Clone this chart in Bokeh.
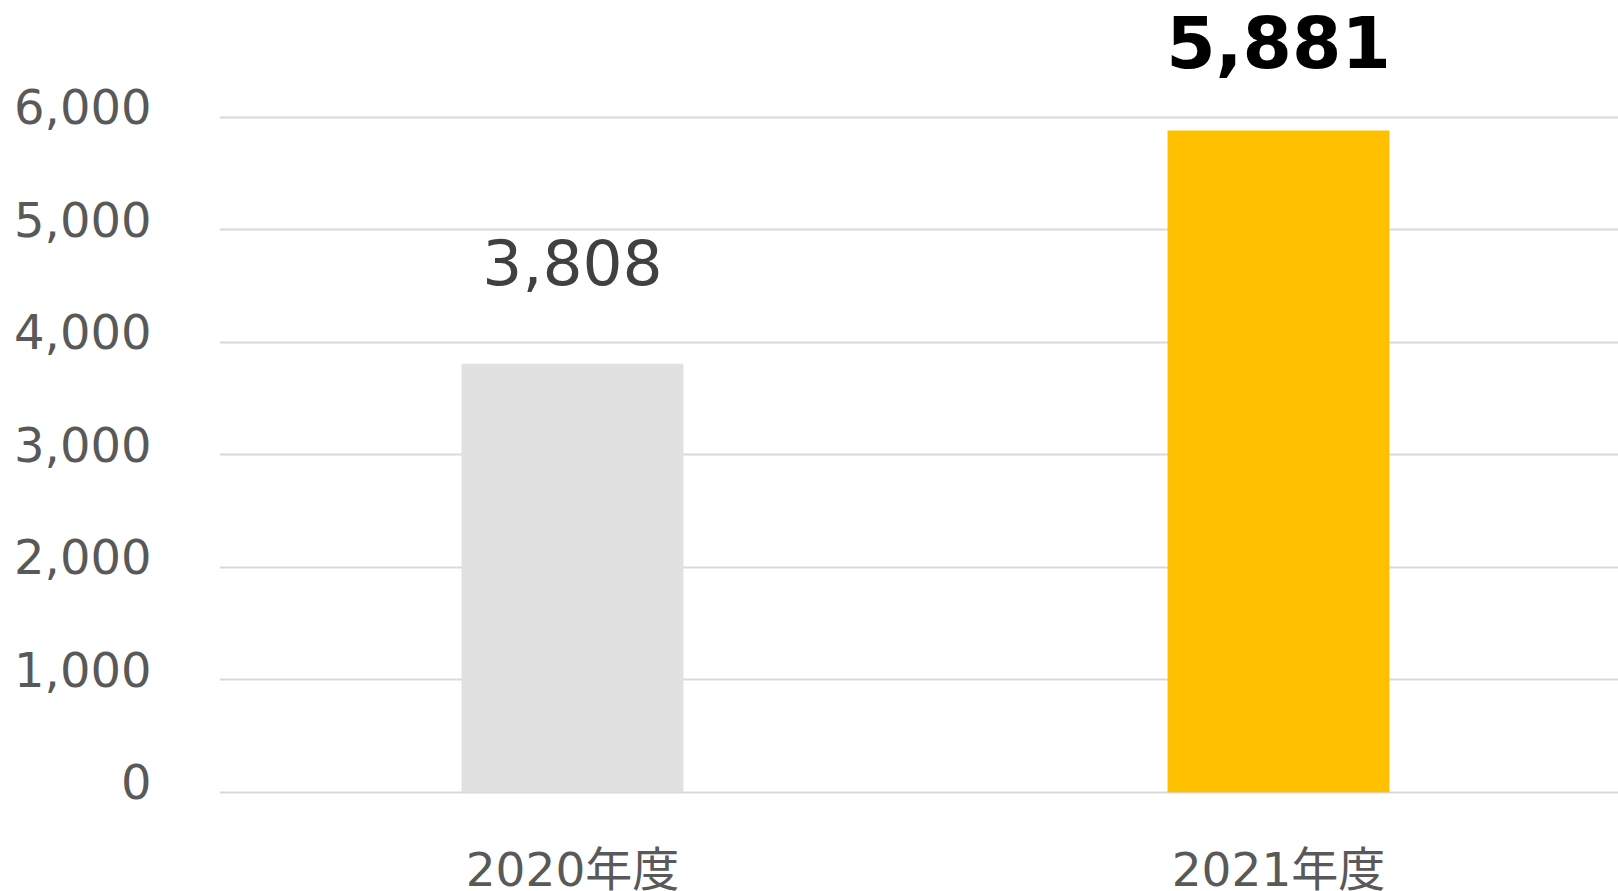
from bokeh.plotting import figure
from bokeh.models import Range1d, FixedTicker, NumeralTickFormatter, ColumnDataSource, LinearAxis
from bokeh.core.properties import value
from bokeh.embed import file_html
from bokeh.resources import INLINE

categories = ["2020年度", "2021年度"]
values = [3808, 5881]
bar_colors = ["#e1e1e1", "#ffc000"]
y_ticks = [0, 1000, 2000, 3000, 4000, 5000, 6000]

xs = list(range(len(categories)))
W, H = 1618, 891
LEFT = 219
px_per_unit = 0.1125
zero_y = 791.7
y_end = zero_y / px_per_unit
y_start = y_end - H / px_per_unit
label_shift = 95  # lifts tick labels slightly above their grid lines

p = figure(width=W, height=H, output_backend="svg", toolbar_location=None,
           x_range=Range1d(-0.5, 1.4816), y_range=Range1d(y_start, y_end),
           y_axis_location=None,
           min_border_left=LEFT, min_border_right=0, min_border_top=0, min_border_bottom=0)
p.outline_line_color = None
p.background_fill_color = "white"
p.border_fill_color = "white"

p.xaxis.visible = False
p.xgrid.visible = False

p.extra_y_ranges = {"lab": Range1d(y_start - label_shift, y_end - label_shift)}
yax = LinearAxis(y_range_name="lab")
yax.ticker = FixedTicker(ticks=y_ticks)
yax.formatter = NumeralTickFormatter(format="0,0")
yax.axis_line_color = None
yax.major_tick_line_color = None
yax.minor_tick_line_color = None
yax.major_tick_out = 0
yax.major_tick_in = 0
yax.minor_tick_out = 0
yax.major_label_text_font = "DejaVu Sans"
yax.major_label_text_font_size = "48px"
yax.major_label_text_color = "#595959"
yax.major_label_standoff = 68
p.add_layout(yax, "left")

p.ygrid.ticker = FixedTicker(ticks=y_ticks)
p.ygrid.grid_line_color = "#d9d9d9"
p.ygrid.grid_line_width = 2

src = ColumnDataSource(dict(x=xs, top=values, color=bar_colors))
p.vbar(x="x", top="top", bottom=0, width=0.3143, fill_color="color", line_color=None, source=src)

# value labels
p.text(x=[xs[0]], y=[values[0]], text=[f"{values[0]:,}"], text_align="center",
       text_baseline="alphabetic", y_offset=-102, text_font=value("DejaVu Sans"),
       text_font_size="63px", text_color="#404040")
p.text(x=[xs[1]], y=[values[1]], text=[f"{values[1]:,}"], text_align="center",
       text_baseline="alphabetic", y_offset=-89, text_font=value("DejaVu Sans"),
       text_font_style="bold", text_font_size="71px", text_color="#000000")

# category labels
p.text(x=xs, y=[0, 0], text=categories, text_align="center", text_baseline="alphabetic",
       y_offset=77, text_font=value("DejaVu Sans, Noto Sans CJK JP"),
       text_font_size="47px", text_color="#595959")

open("out.html", "w").write(file_html(p, INLINE))
